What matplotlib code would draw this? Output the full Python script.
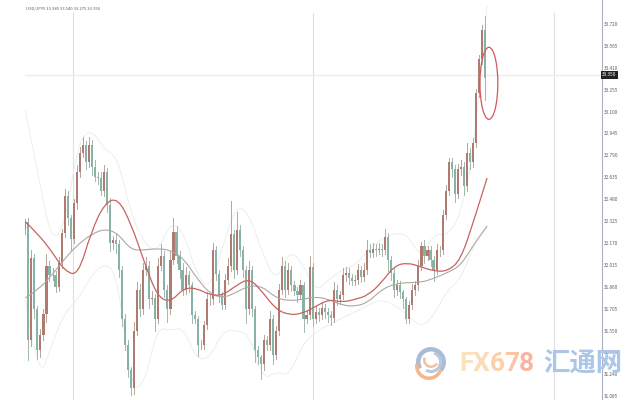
import numpy as np
import matplotlib
matplotlib.use("Agg")
import matplotlib.pyplot as plt
from matplotlib.patches import Ellipse, Wedge, PathPatch
from matplotlib.path import Path

close = [32.32,31.48,32.06,31.70,31.41,31.52,31.67,32.01,31.94,31.94,
         31.86,32.03,32.24,32.50,32.35,32.20,32.45,32.67,32.81,32.86,
         32.74,32.86,32.71,32.64,32.63,32.54,32.67,32.44,32.17,32.19,
         32.16,31.98,31.63,31.45,31.27,31.14,31.55,31.84,31.70,31.98,
         32.01,31.77,31.78,31.63,32.01,32.08,31.84,31.70,32.05,32.25,
         32.08,31.98,31.84,31.94,31.87,31.66,31.63,31.45,31.45,31.59,
         31.77,31.77,32.12,31.95,31.80,31.73,31.91,32.01,32.23,31.98,
         32.26,32.12,31.98,31.70,31.98,31.70,31.41,31.36,31.31,31.48,
         31.45,31.63,31.38,31.55,31.84,32.01,31.84,31.98,31.87,31.83,
         31.80,31.87,31.63,31.66,32.00,31.63,31.68,31.66,31.71,31.68,
         31.66,31.64,31.84,31.77,31.80,31.94,31.96,31.92,31.90,31.91,
         31.98,31.93,31.98,32.12,32.10,32.13,32.12,32.13,32.12,32.21,
         32.05,31.96,31.84,31.87,31.82,31.77,31.63,31.73,31.84,31.87,
         32.01,32.15,32.08,32.12,32.05,31.98,32.12,32.12,32.37,32.54,
         32.74,32.69,32.52,32.69,32.71,32.57,32.81,32.74,32.88,33.23,33.47,33.68,33.34]

upper_wick = [.02,.03,.06,.03,.02,.04,.03,.08,.03,.05,
              .03,.04,.03,.05,.04,.02,.03,.05,.04,.06,
              .03,.06,.04,.05,.03,.04,.05,.03,.05,.03,
              .04,.03,.03,.04,.03,.02,.06,.05,.04,.05,
              .06,.03,.05,.03,.05,.08,.03,.03,.06,.10,
              .04,.03,.05,.06,.03,.02,.03,.02,.03,.03,
              .05,.03,.05,.03,.03,.02,.04,.05,.24,.03,
              .13,.04,.03,.03,.06,.03,.02,.03,.02,.04,
              .03,.06,.03,.03,.04,.06,.03,.05,.03,.03,
              .03,.04,.02,.03,.08,.03,.04,.03,.04,.03,
              .03,.03,.05,.03,.03,.05,.04,.03,.03,.03,
              .04,.03,.05,.07,.04,.04,.03,.04,.03,.06,
              .03,.03,.03,.04,.03,.02,.02,.03,.04,.03,
              .04,.03,.04,.03,.03,.03,.04,.03,.03,.04,
              .03,.03,.03,.04,.05,.03,.07,.03,.03,.03,.03,.03,.10]

lower_wick = [.04,.14,.04,.06,.06,.05,.04,.06,.04,.03,
              .04,.03,.04,.03,.05,.09,.03,.04,.03,.03,
              .05,.03,.06,.03,.04,.03,.04,.05,.06,.04,
              .06,.05,.05,.04,.05,.05,.04,.03,.05,.03,
              .04,.06,.03,.08,.03,.03,.05,.09,.03,.03,
              .05,.06,.04,.03,.05,.06,.03,.08,.03,.03,
              .03,.04,.03,.04,.05,.03,.03,.03,.04,.06,
              .03,.04,.05,.10,.03,.05,.08,.05,.10,.04,
              .04,.04,.07,.03,.03,.03,.05,.03,.04,.03,
              .05,.03,.09,.03,.03,.05,.03,.04,.03,.04,
              .05,.05,.03,.04,.03,.03,.04,.04,.03,.03,
              .03,.04,.03,.03,.03,.03,.04,.03,.04,.03,
              .08,.05,.05,.04,.04,.06,.03,.03,.03,.04,
              .03,.03,.05,.03,.04,.08,.03,.04,.03,.03,
              .03,.05,.06,.03,.04,.06,.03,.05,.03,.03,.03,.03,.16]

ma_red = [32.32,32.23,32.11,31.97,31.94,32.25,32.45,32.49,32.31,32.04,31.79,31.75,
          31.85,31.85,31.80,31.80,31.87,31.92,31.82,31.70,31.66,31.67,31.72,31.77,
          31.75,31.77,31.80,31.89,32.01,32.03,32.00,31.97,31.97,32.05,32.33,32.63]
ma_gray = [31.78,31.84,31.94,32.06,32.16,32.23,32.27,32.24,32.12,32.12,32.13,32.12,
           32.06,31.92,31.81,31.78,31.82,31.87,31.86,31.78,31.76,31.77,31.79,31.77,
           31.73,31.72,31.75,31.84,31.88,31.89,31.89,31.92,31.96,32.01,32.16,32.29]
band_upper = [33.11,32.64,32.17,32.30,32.88,32.98,32.83,32.78,32.38,32.17,32.10,32.32,
              32.25,31.94,31.84,32.16,32.44,32.37,32.09,31.89,32.12,32.03,31.82,31.91,
              31.98,32.01,32.12,32.20,32.24,32.23,32.06,32.24,32.22,32.37,32.83,33.85]
band_lower = [31.77,31.18,31.45,31.68,31.77,31.94,32.03,31.94,31.14,31.16,31.57,31.55,
              31.57,31.34,31.36,31.55,31.55,31.52,31.20,31.26,31.23,31.45,31.54,31.59,
              31.64,31.68,31.73,31.77,31.73,31.66,31.57,31.66,31.84,31.91,32.16,32.28]

tick_values = [33.720,33.565,33.410,33.255,33.100,32.945,32.790,32.635,32.480,
               32.325,32.170,32.015,31.860,31.705,31.550,31.395,31.240,31.085]
last_price = 33.36
header = "USD/JPY5 33.385 33.540 33.275 33.350"
grid_bars = [15.7, 95.2, 174.8]

W, H = 640, 400
plt.rcParams['font.family'] = ['Noto Sans CJK SC', 'DejaVu Sans']
fig = plt.figure(figsize=(W/100, H/100), dpi=100, facecolor="white")
ax = fig.add_axes([25/W, 0, (602-25)/W, 1])
ax.set_xlim(-0.1, 190.7)
ax.set_ylim(31.058, 33.89)
for s in ["top", "left", "bottom"]:
    ax.spines[s].set_visible(False)
ax.spines["right"].set_color("#aab2c0")
ax.spines["right"].set_linewidth(0.8)
ax.yaxis.tick_right()
ax.set_yticks(tick_values)
ax.set_yticklabels([f"{v:.3f}" for v in tick_values], fontsize=3.4, color="#5a5f66")
ax.tick_params(axis="y", length=0, pad=1.5)
ax.set_xticks([])

for b in grid_bars:
    ax.plot([b, b], [31.058, 33.80], color="#dfe0e3", lw=0.8, zorder=1)
ax.axhline(last_price, color="#ecece9", lw=0.9, zorder=1)


def smooth(xs, ys, **kw):
    """Draw a line through the readings with rounded corners (quadratic Path)."""
    pts = list(zip(xs, ys))
    verts = [pts[0]]
    codes = [Path.MOVETO]
    for k in range(1, len(pts) - 1):
        mid = ((pts[k][0] + pts[k+1][0]) / 2, (pts[k][1] + pts[k+1][1]) / 2)
        verts += [pts[k], mid]
        codes += [Path.CURVE3, Path.CURVE3]
    verts.append(pts[-1])
    codes.append(Path.LINETO)
    ax.add_patch(PathPatch(Path(verts, codes), fill=False, **kw))


line_bars = np.linspace(0, 152.7, len(ma_red))
smooth(line_bars, band_upper, ec="#e8f0ed", lw=0.7, zorder=2)
smooth(line_bars, band_lower, ec="#e8f0ed", lw=0.7, zorder=2)

opens = [close[0] - 0.05] + close[:-1]
for i, (o, c, u, l) in enumerate(zip(opens, close, upper_wick, lower_wick)):
    col = "#b07a70" if c >= o else "#86b3a4"
    wick = "#b3a79c" if c >= o else "#a3b8ad"
    ax.plot([i, i], [min(o, c) - l, max(o, c) + u], color=wick, lw=0.7, zorder=3)
    ax.bar(i, abs(c - o), bottom=min(o, c), width=0.7, color=col, linewidth=0, zorder=4)

smooth(line_bars, ma_gray, ec="#aca8a3", lw=0.8, zorder=5)
smooth(line_bars, ma_red, ec="#c8635f", lw=0.9, zorder=6)
ax.add_patch(Ellipse((153.3, 33.30), 5.9, 0.51, fill=False, ec="#cf5a58", lw=0.9, zorder=7))

fig.text(26/W, 1-8.5/H, header, fontsize=3.0, color="#5a5f66", va="center", ha="left")
fig.text(609.5/W, 1-75/H, f"{33.350:.3f}", fontsize=3.4, color="white", va="center", ha="center",
         bbox=dict(boxstyle="square,pad=0.3", fc="#222222", ec="none"))

# watermark
wm = fig.add_axes([0, 0, 1, 1], facecolor="none")
wm.set_xlim(0, W); wm.set_ylim(H, 0); wm.axis("off")
wm.add_patch(Wedge((431, 362), 15, 150, 400, width=4.5, fc="#a9bcd8", ec="none"))
wm.add_patch(Wedge((431, 362), 11, 290, 480, width=3, fc="#b9c8dd", ec="none"))
wm.add_patch(Wedge((429, 366), 14, 20, 190, width=3.5, fc="#f3b78c", ec="none"))
wm.add_patch(Wedge((431, 360), 8, 30, 200, width=2.5, fc="#f4c19d", ec="none"))
for ch, x, col in zip("FX678", [467, 481, 497, 512, 526],
                      ["#fbe2bd", "#fbdcb8", "#fbd0ab", "#fac5a4", "#f9b5a2"]):
    wm.text(x, 364, ch, fontsize=19, fontweight="bold", family="Roboto",
            color=col, ha="center", va="center")
wm.text(582.5, 364, "汇通网", fontsize=19, fontweight="bold", color="#abc6e6",
        ha="center", va="center", family=["Noto Sans CJK SC", "DejaVu Sans"])

fig.savefig("out.png", dpi=100)
